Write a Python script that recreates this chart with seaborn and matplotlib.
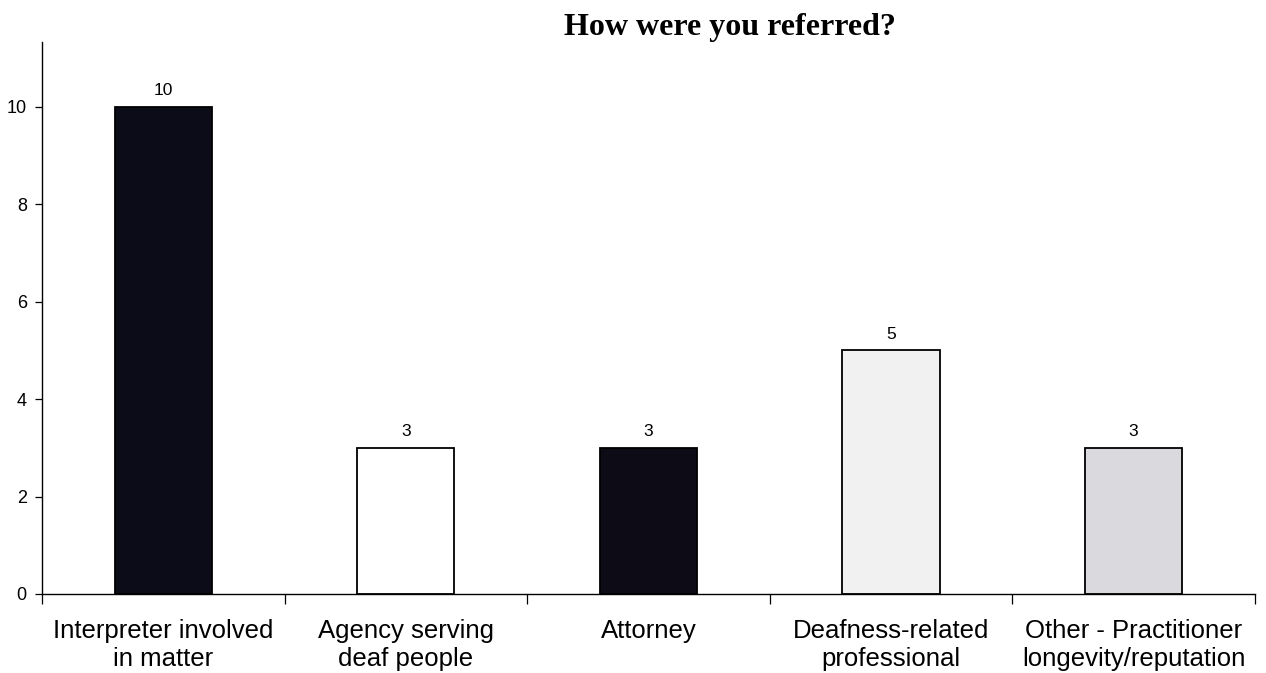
import matplotlib
matplotlib.use("Agg")
import matplotlib.pyplot as plt
import seaborn as sns
import pandas as pd
import numpy as np

categories = ["Interpreter involved\nin matter", "Agency serving\ndeaf people", "Attorney",
              "Deafness-related\nprofessional", "Other - Practitioner\nlongevity/reputation"]
counts = [10, 3, 3, 5, 3]
bar_colors = ["#0c0b18", "#ffffff", "#0c0b16", "#f1f1f1", "#d9d9de"]

sns.set_theme(style="white")
plt.rcParams['font.family'] = ['Liberation Sans', 'DejaVu Sans']

df = pd.DataFrame({"cat": categories, "n": counts})

fig = plt.figure(figsize=(12.66, 6.73), dpi=100)
ax = fig.add_axes([0.0332, 0.1174, 0.958, 0.8202])
sns.barplot(data=df, x="cat", y="n", hue="cat", palette=bar_colors, legend=False,
            width=0.4, edgecolor="black", linewidth=1.3, ax=ax, saturation=1)

for c in ax.containers:
    ax.bar_label(c, labels=[f"{v:g}" for v in c.datavalues], padding=6, fontsize=12.5,
                 color="black")

ax.set_xlim(-0.5, len(categories) - 0.5)
ax.set_ylim(0, 11.33)
ax.set_yticks([0, 2, 4, 6, 8, 10])
ax.set_xlabel("")
ax.set_ylabel("")
ax.set_xticks(np.arange(len(categories)))
ax.set_xticklabels(categories, fontsize=18.5, color="black", linespacing=1.2)
ax.set_xticks(np.arange(-0.5, len(categories)), minor=True)
ax.tick_params(axis="x", which="major", length=0, pad=18)
ax.tick_params(axis="x", which="minor", length=7, width=0.9, color="black", direction="out", bottom=True)
ax.tick_params(axis="y", length=5, width=0.9, color="black", direction="out", left=True,
               labelsize=13, pad=6, labelcolor="black")
for s in ["top", "right"]:
    ax.spines[s].set_visible(False)
for s in ["left", "bottom"]:
    ax.spines[s].set_color("black")
    ax.spines[s].set_linewidth(1.0)

fig.text(0.5766, 0.948, "How were you referred?", ha="center", va="baseline",
         fontsize=23, fontweight="bold", color="black",
         family=["Liberation Serif", "DejaVu Serif"])

fig.savefig("out.png", dpi=100)
